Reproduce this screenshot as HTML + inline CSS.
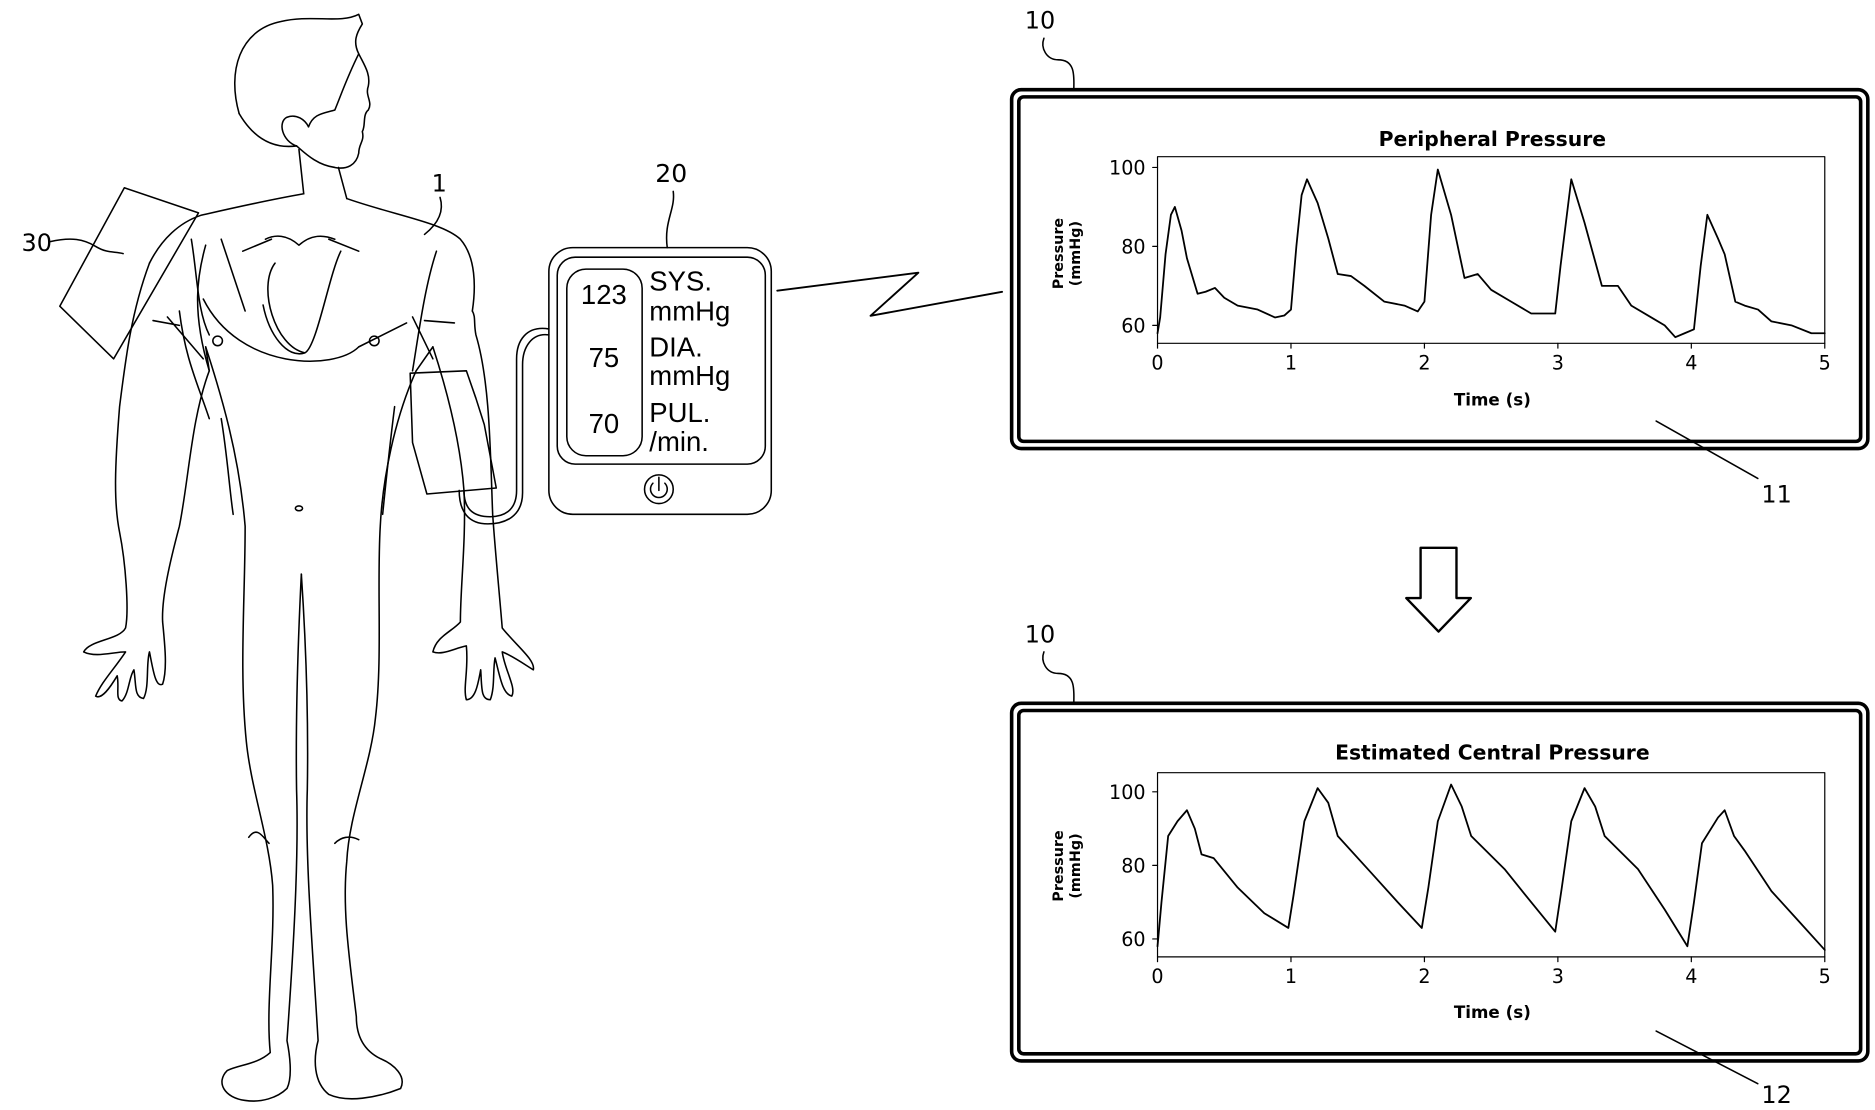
<!DOCTYPE html>
<html><head><meta charset="utf-8"><style>
html,body{margin:0;padding:0;background:#fff;}
svg{display:block;font-family:"DejaVu Sans","Liberation Sans",sans-serif;}
</style></head><body>
<svg id="s" width="1875" height="1110" viewBox="0 0 1568 928" preserveAspectRatio="none" xmlns="http://www.w3.org/2000/svg">
<g fill="none" stroke="#000" stroke-width="1.3" stroke-linejoin="round" stroke-linecap="round">
<!-- head -->
<path d="M200,95 C190,60 200,25 235,18 C260,12 285,20 300,12 L303,20 C298,28 295,35 300,45 C305,55 310,62 308,72 C305,80 312,85 308,92 C303,96 306,105 303,110 C305,118 300,120 300,128 C298,138 290,142 280,140 C265,138 255,128 248,122"/>
<path d="M200,95 C210,112 225,125 248,122"/>
<path d="M248,122 C236,118 232,102 240,98 C248,95 255,100 258,106"/>
<path d="M258,106 C262,95 270,95 280,92 C285,80 290,65 300,45"/>
<path d="M250,125 L254,162 M283,140 L290,166"/>
<path d="M254,162 C220,168 190,175 168,180 C150,186 135,200 125,220 M290,166 C330,180 370,186 385,200 C398,215 398,240 395,260"/>
<!-- body -->
<path d="M125,220 C110,260 105,300 100,340 C96,390 95,420 100,445 C105,470 108,510 105,525 C100,535 75,535 70,545 C80,550 95,545 105,545 C95,560 85,570 80,582 C85,585 92,575 98,565 C100,575 96,585 102,586 C108,580 108,565 112,560 C114,572 112,583 120,584 C125,575 122,555 125,545 C128,560 130,575 136,572 C140,560 138,540 136,520 C135,500 142,470 150,440 C158,400 160,350 175,310 L172,290"/>
<path d="M172,290 C185,330 200,380 205,440 C205,500 200,560 206,620 C210,660 225,700 228,740 C230,790 222,840 226,880 C215,890 200,890 190,895 C180,905 188,918 205,920 C218,922 232,918 240,910 C245,900 242,880 240,870 C245,800 250,720 248,660 C247,590 250,520 252,480"/>
<path d="M252,480 C256,540 258,600 257,660 C255,720 262,800 266,870 C262,885 262,905 275,915 C290,922 315,918 335,910 C340,900 330,890 318,885 C308,880 298,870 298,850 C292,800 286,760 290,720 C292,680 310,640 314,600 C320,550 315,490 318,440 C320,400 330,350 348,310 L362,290"/>
<path d="M362,290 C375,330 385,370 388,410 C390,450 385,490 385,520 C378,528 365,532 362,545 C370,548 380,542 390,540 C392,560 387,575 390,585 C398,585 400,570 402,560 C403,575 402,585 410,585 C414,575 412,560 414,550 C418,565 420,580 428,582 C432,575 422,560 420,545 C428,548 438,555 446,560 C448,552 432,540 420,525 C418,500 414,460 412,430 C410,380 410,320 398,280 C396,270 398,265 395,260"/>
<path d="M175,310 C160,260 165,230 172,205 M345,310 C350,280 355,240 365,210"/>
<path d="M170,250 C200,310 280,310 300,290 M220,255 C225,280 240,300 255,295 M300,290 L340,270 M230,220 C215,240 230,290 255,295 M285,210 C275,230 265,290 255,295"/>
<path d="M185,200 L205,260 M150,260 C155,300 165,320 175,350 M160,200 C165,230 165,260 175,280"/>
<circle cx="182" cy="285" r="4"/><circle cx="313" cy="285" r="4"/><ellipse cx="250" cy="425" rx="3" ry="2"/>
<path d="M203,210 L227,200 M275,200 L300,210 M222,200 C230,196 240,196 250,205 C260,196 270,196 280,200"/>
<path d="M128,268 L150,272 M355,268 L380,270 M140,265 L170,300 M345,265 L362,300"/>
<path d="M185,350 C190,380 192,410 195,430 M330,340 C325,380 322,410 320,430"/>
<path d="M208,700 C215,690 220,700 225,705 M280,705 C285,700 292,698 300,702"/>
<!-- pad 30 -->
<path d="M104,157 L166,178 L95,300 L50,256 Z"/>
<path d="M42,202 C60,198 70,200 80,206 C90,212 95,210 103,212"/>
<path d="M368,165 C372,178 365,188 355,196"/>
<!-- cuff -->
<path d="M343,312 L390,310 L398,333 L405,355 L415,408 L357,413 L345,370 Z"/>
<!-- cable -->
<path d="M459,275 C440,272 432,285 432,300 L432,410 C432,428 420,432 410,432 C395,432 388,425 388,410"/>
<path d="M459,280 C445,278 437,290 437,305 L437,412 C437,432 422,438 408,438 C392,438 384,428 384,410"/>
<!-- device 20 -->
<rect x="459" y="207" width="186" height="223" rx="20"/>
<rect x="466" y="215" width="174" height="173" rx="15"/>
<rect x="474" y="225" width="63" height="156" rx="16"/>
<circle cx="551" cy="409" r="12"/>
<path d="M546,404 A7,7 0 1 0 556,404 M551,399 L551,410"/>
<path d="M563,160 C565,175 555,185 558,207"/>
<path d="M650,243 L768,228 L728,264 L838,244" stroke-width="1.6"/>
<!-- panels -->
<rect x="846" y="75" width="716" height="300" rx="8" stroke-width="3"/>
<rect x="852" y="81" width="704" height="288" rx="4" stroke-width="3"/>
<rect x="968" y="131" width="558" height="156" stroke-width="1"/>
<path d="M873,32 C870,40 875,50 885,50 C900,50 898,65 898,75"/>
<path d="M1385,352 L1470,400"/>
<rect x="846" y="588" width="716" height="299" rx="8" stroke-width="3"/>
<rect x="852" y="594" width="704" height="287" rx="4" stroke-width="3"/>
<rect x="968" y="646" width="558" height="154" stroke-width="1"/>
<path d="M873,545 C870,553 875,563 885,563 C900,563 898,578 898,588"/>
<path d="M1385,862 L1470,906"/>
<path d="M1188,458 L1218,458 L1218,500 L1230,500 L1203,528 L1176,500 L1188,500 Z" stroke-width="2"/>
<g id="curves" stroke-width="1.5"></g>
<g id="ticks" stroke-width="1"></g>
</g>
<g stroke="none" fill="#000">
<text x="18" y="210" font-size="20">30</text>
<text x="361" y="160" font-size="20">1</text>
<text x="857" y="24" font-size="20">10</text>
<text x="857" y="537" font-size="20">10</text>
<text x="1473" y="420" font-size="20">11</text>
<text x="1473" y="922" font-size="20">12</text>
<text x="548" y="152" font-size="21">20</text>
<g font-family="Liberation Sans, sans-serif" font-size="23">
<text x="505" y="254" text-anchor="middle">123</text>
<text x="505" y="307" text-anchor="middle">75</text>
<text x="505" y="362" text-anchor="middle">70</text>
<text x="543" y="243">SYS.</text><text x="543" y="268">mmHg</text>
<text x="543" y="298">DIA.</text><text x="543" y="322">mmHg</text>
<text x="543" y="353">PUL.</text><text x="543" y="377">/min.</text>
</g>
<text x="1248" y="122" font-size="17" font-weight="bold" text-anchor="middle">Peripheral Pressure</text>
<text x="1248" y="635" font-size="17" font-weight="bold" text-anchor="middle">Estimated Central Pressure</text>
<text x="1248" y="339" font-size="14" font-weight="bold" text-anchor="middle">Time (s)</text>
<text x="1248" y="851" font-size="14" font-weight="bold" text-anchor="middle">Time (s)</text>
<text transform="translate(889,212) rotate(-90)" font-size="12" font-weight="bold" text-anchor="middle">Pressure</text>
<text transform="translate(903,212) rotate(-90)" font-size="12" font-weight="bold" text-anchor="middle">(mmHg)</text>
<text transform="translate(889,724) rotate(-90)" font-size="12" font-weight="bold" text-anchor="middle">Pressure</text>
<text transform="translate(903,724) rotate(-90)" font-size="12" font-weight="bold" text-anchor="middle">(mmHg)</text>
<g id="labels" font-size="16"></g>
</g>
</svg>
<script>
var NS="http://www.w3.org/2000/svg";
function el(p,t,a,txt){var e=document.createElementNS(NS,t);for(var k in a)e.setAttribute(k,a[k]);if(txt)e.textContent=txt;document.getElementById(p).appendChild(e);}
function plot(data,y0,ypu,ybot){
 var pts=data.map(function(d){return (968+d[0]*111.6).toFixed(1)+","+(y0-(d[1]-60)*ypu).toFixed(1)}).join(" ");
 el("curves","polyline",{points:pts});
 for(var i=0;i<=5;i++){var x=968+i*111.6;el("ticks","line",{x1:x,y1:ybot,x2:x,y2:ybot+4});el("labels","text",{x:x,y:ybot+22,"text-anchor":"middle"},""+i);}
 [60,80,100].forEach(function(v){var y=y0-(v-60)*ypu;el("ticks","line",{x1:964,y1:y,x2:968,y2:y});el("labels","text",{x:958,y:y+6,"text-anchor":"end"},""+v);});
}
plot([[0,58],[0.02,62],[0.06,78],[0.1,88],[0.13,90],[0.18,84],[0.22,77],[0.3,68],[0.36,68.5],[0.43,69.5],[0.5,67],[0.6,65],[0.75,64],[0.88,62],[0.95,62.5],[1.0,64],[1.04,80],[1.08,93],[1.12,97],[1.2,91],[1.28,82],[1.35,73],[1.45,72.5],[1.55,70],[1.7,66],[1.85,65],[1.95,63.5],[2.0,66],[2.05,88],[2.1,99.5],[2.2,88],[2.3,72],[2.4,73],[2.5,69],[2.65,66],[2.8,63],[2.98,63],[3.02,75],[3.1,97],[3.2,86],[3.33,70],[3.45,70],[3.55,65],[3.7,62],[3.8,60],[3.88,57],[3.95,58],[4.02,59],[4.07,75],[4.12,88],[4.2,82],[4.25,78],[4.33,66],[4.4,65],[4.5,64],[4.6,61],[4.75,60],[4.9,58],[5,58]],272,3.3,287);
plot([[0,58],[0.03,70],[0.08,88],[0.15,92],[0.22,95],[0.28,90],[0.33,83],[0.42,82],[0.6,74],[0.8,67],[0.98,63],[1.02,72],[1.1,92],[1.2,101],[1.28,97],[1.35,88],[1.6,78],[1.8,70],[1.98,63],[2.03,74],[2.1,92],[2.2,102],[2.28,96],[2.35,88],[2.6,79],[2.8,70],[2.98,62],[3.03,74],[3.1,92],[3.2,101],[3.28,96],[3.35,88],[3.6,79],[3.8,68],[3.97,58],[4.02,70],[4.08,86],[4.2,93],[4.25,95],[4.32,88],[4.4,84],[4.6,73],[4.8,65],[5,57]],785,3.075,800);
</script>
</body></html>
